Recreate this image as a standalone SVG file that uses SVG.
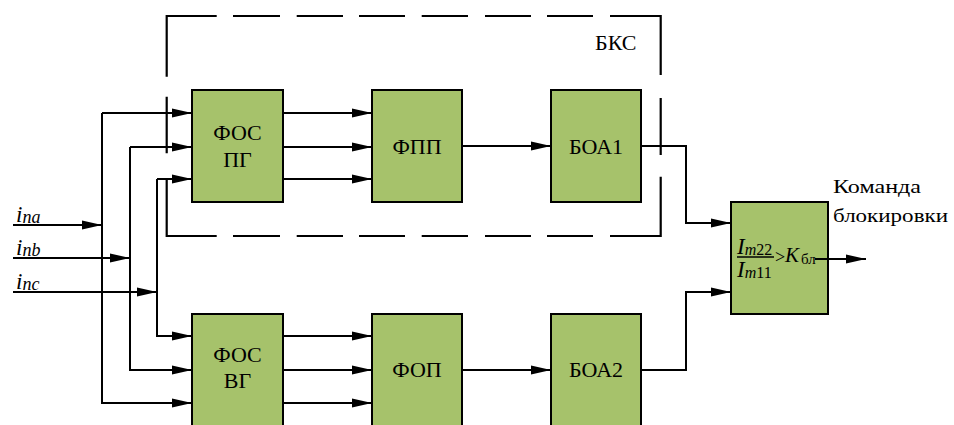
<svg xmlns="http://www.w3.org/2000/svg" width="954" height="425" viewBox="0 0 954 425">
<style>
.blk{fill:#a6c26b;stroke:#000;stroke-width:2}
.ln{fill:none;stroke:#000;stroke-width:2}
.dash{fill:none;stroke:#000;stroke-width:2.2}
text{font-family:'Liberation Serif','DejaVu Serif',serif;fill:#000}
.c{text-anchor:middle;font-size:22px}
.it{font-style:italic}
</style>
<defs>
<marker id="ah" markerUnits="userSpaceOnUse" markerWidth="21" markerHeight="10" refX="20" refY="5" orient="auto" overflow="visible">
<path d="M0,0.5 L20,5 L0,9.5 z" fill="#000"/>
</marker>
</defs>
<rect width="954" height="425" fill="#fff"/>
<g id="bks">
<path class="dash" d="M216.7,16 H166.7 V76.7 M233,16 H280 M296.7,16 H343 M359,16 H405 M421.7,16 H468 M485,16 H531 M547,16 H593 M610,16 H660.7 V75 M166.7,96.7 V153.3 M660.7,98 V155 M166.7,179 V236 H216.7 M660.7,176.7 V236 H610 M233,236 H280 M296.7,236 H343 M359,236 H405 M421.7,236 H468 M485,236 H531 M547,236 H593"/>
<text x="595" y="50" font-size="22">БКС</text>
</g>
<g id="connectors">
<path class="ln" d="M13,225 H102" marker-end="url(#ah)"/>
<path class="ln" d="M13,258 H130" marker-end="url(#ah)"/>
<path class="ln" d="M13,292 H157" marker-end="url(#ah)"/>
<path class="ln" d="M102,113 H192" marker-end="url(#ah)"/>
<path class="ln" d="M102,113 V403 H192" marker-end="url(#ah)"/>
<path class="ln" d="M130,147 H192" marker-end="url(#ah)"/>
<path class="ln" d="M130,147 V370 H192" marker-end="url(#ah)"/>
<path class="ln" d="M157,179 H192" marker-end="url(#ah)"/>
<path class="ln" d="M157,179 V336 H192" marker-end="url(#ah)"/>
<path class="ln" d="M283,113 H372" marker-end="url(#ah)"/>
<path class="ln" d="M283,147 H372" marker-end="url(#ah)"/>
<path class="ln" d="M283,179 H372" marker-end="url(#ah)"/>
<path class="ln" d="M462,146 H551" marker-end="url(#ah)"/>
<path class="ln" d="M641,146 H686 V223 H731" marker-end="url(#ah)"/>
<path class="ln" d="M283,336 H372" marker-end="url(#ah)"/>
<path class="ln" d="M283,370 H372" marker-end="url(#ah)"/>
<path class="ln" d="M283,403 H372" marker-end="url(#ah)"/>
<path class="ln" d="M462,370 H551" marker-end="url(#ah)"/>
<path class="ln" d="M641,370 H686 V292 H731" marker-end="url(#ah)"/>
</g>
<g id="inputs">
<text class="it" x="16" y="221.5" font-size="23">i<tspan font-size="18" dy="1">na</tspan></text>
<text class="it" x="16" y="255" font-size="23">i<tspan font-size="18" dy="1">nb</tspan></text>
<text class="it" x="16" y="288.5" font-size="23">i<tspan font-size="18" dy="1">nc</tspan></text>
</g>
<g id="fos_pg">
<rect class="blk" x="192" y="90" width="91" height="112"/>
<text class="c" x="237.5" y="140">ФОС</text>
<text class="c" x="237.5" y="167">ПГ</text>
</g>
<g id="fpp">
<rect class="blk" x="372" y="90" width="90" height="112"/>
<text class="c" x="417" y="154">ФПП</text>
</g>
<g id="boa1">
<rect class="blk" x="551" y="90" width="90" height="112"/>
<text class="c" x="596" y="154">БОА1</text>
</g>
<g id="fos_vg">
<rect class="blk" x="192" y="314" width="91" height="120"/>
<text class="c" x="237.5" y="362">ФОС</text>
<text class="c" x="237.5" y="387.5">ВГ</text>
</g>
<g id="fop">
<rect class="blk" x="372" y="314" width="90" height="120"/>
<text class="c" x="417" y="377">ФОП</text>
</g>
<g id="boa2">
<rect class="blk" x="551" y="314" width="90" height="120"/>
<text class="c" x="596" y="377">БОА2</text>
</g>
<g id="block_cmd">
<rect class="blk" x="731" y="202" width="97" height="112"/>
<text class="it" x="737" y="253.5" font-size="23">I<tspan font-size="16" dy="1">m</tspan><tspan font-size="16" font-style="normal">22</tspan></text>
<path d="M737,257 H774" stroke="#000" stroke-width="1.5"/>
<text class="it" x="737" y="277" font-size="23">I<tspan font-size="16" dy="1">m</tspan><tspan font-size="16" font-style="normal">11</tspan></text>
<text x="775" y="263" font-size="18">&gt;</text>
<text class="it" x="785" y="262" font-size="21">K</text>
<text x="801" y="263.5" font-size="15">бл</text>
<path class="ln" d="M815,259 H866" marker-end="url(#ah)"/>
</g>
<g id="cmd_label">
<text x="833" y="193" font-size="19" textLength="88" lengthAdjust="spacingAndGlyphs">Команда</text>
<text x="833" y="221.7" font-size="19" textLength="115" lengthAdjust="spacingAndGlyphs">блокировки</text>
</g>
</svg>
